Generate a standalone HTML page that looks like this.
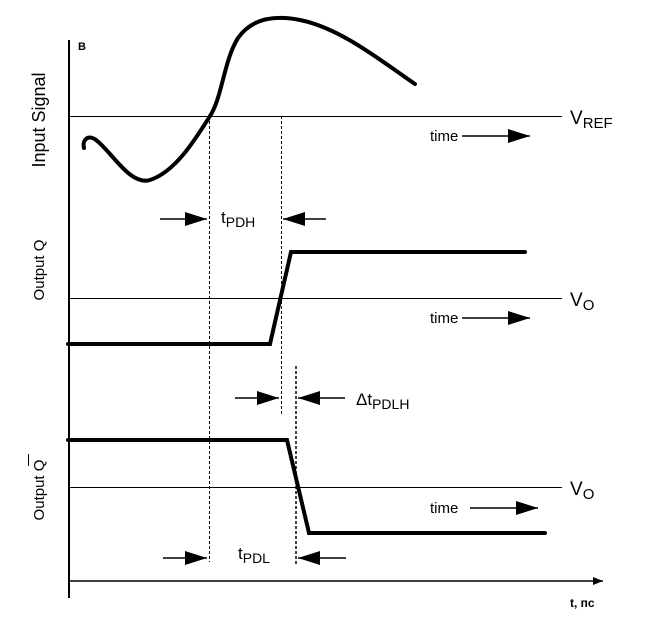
<!DOCTYPE html>
<html><head><meta charset="utf-8"><style>
body{margin:0;background:#fff}
svg text{font-family:"Liberation Sans","DejaVu Sans",sans-serif;fill:#000}
</style></head><body>
<svg width="648" height="625" viewBox="0 0 648 625">
<defs>
<marker id="ah" markerWidth="10" markerHeight="8" refX="10" refY="4" orient="auto" markerUnits="userSpaceOnUse"><path d="M0,0 L10,4 L0,8Z" fill="#000"/></marker>
<marker id="big" markerWidth="22" markerHeight="14" refX="22" refY="7" orient="auto" markerUnits="userSpaceOnUse"><path d="M0,0 L22,7 L0,14Z" fill="#000"/></marker>
</defs>
<line x1="69" y1="40" x2="69" y2="598" stroke="#000" stroke-width="2"/>
<line x1="69" y1="581" x2="603" y2="581" stroke="#000" stroke-width="1.5" marker-end="url(#ah)"/>
<text x="78" y="50" font-size="11" font-weight="bold">B</text>
<text x="570" y="607" font-size="12" font-weight="bold">t, пс</text>

<text transform="translate(45,120) rotate(-90)" text-anchor="middle" font-size="18">Input Signal</text>
<text transform="translate(44,270) rotate(-90)" text-anchor="middle" font-size="15">Output Q</text>
<text transform="translate(44,490) rotate(-90)" text-anchor="middle" font-size="15">Output Q</text>
<line x1="28.5" y1="454" x2="28.5" y2="466" stroke="#000" stroke-width="1"/>

<line x1="70" y1="116.5" x2="562" y2="116.5" stroke="#000" stroke-width="1"/>
<text x="570" y="124" font-size="19">V<tspan font-size="15" dy="4">REF</tspan></text>
<path d="M84,148 C82,140 88,134 96,140 C112,152 130,186 150,180 C175,172 195,140 210,116 C222,98 224,60 238,38 C252,18 275,15 300,20 C340,28 380,60 415,84" fill="none" stroke="#000" stroke-width="4" stroke-linecap="round"/>
<text x="430" y="141" font-size="15">time</text>
<line x1="462" y1="136" x2="530" y2="136" stroke="#000" stroke-width="1.5" marker-end="url(#big)"/>

<g stroke="#000" stroke-width="1" stroke-dasharray="3,2">
<line x1="209.5" y1="116" x2="209.5" y2="562"/>
<line x1="281.5" y1="116" x2="281.5" y2="416"/>
<line x1="296" y1="366" x2="296" y2="566" stroke-width="1.5"/>
</g>

<line x1="160" y1="219" x2="207" y2="219" stroke="#000" stroke-width="1.5" marker-end="url(#big)"/>
<line x1="326" y1="219" x2="283" y2="219" stroke="#000" stroke-width="1.5" marker-end="url(#big)"/>
<text x="221" y="223" font-size="17">t<tspan font-size="14" dy="4">PDH</tspan></text>

<line x1="70" y1="298.5" x2="562" y2="298.5" stroke="#000" stroke-width="1"/>
<text x="570" y="306" font-size="19">V<tspan font-size="15" dy="4">O</tspan></text>
<polyline points="68,344 270,344 291,252 525,252" fill="none" stroke="#000" stroke-width="4" stroke-linecap="round"/>
<text x="430" y="323" font-size="15">time</text>
<line x1="462" y1="318" x2="530" y2="318" stroke="#000" stroke-width="1.5" marker-end="url(#big)"/>

<line x1="235" y1="398" x2="279" y2="398" stroke="#000" stroke-width="1.5" marker-end="url(#big)"/>
<line x1="345" y1="398" x2="298" y2="398" stroke="#000" stroke-width="1.5" marker-end="url(#big)"/>
<text x="356" y="405" font-size="17">Δt<tspan font-size="14" dy="4">PDLH</tspan></text>

<line x1="70" y1="487.5" x2="562" y2="487.5" stroke="#000" stroke-width="1"/>
<text x="570" y="495" font-size="19">V<tspan font-size="15" dy="4">O</tspan></text>
<polyline points="68,440 287,440 309,533 545,533" fill="none" stroke="#000" stroke-width="4" stroke-linecap="round"/>
<text x="430" y="513" font-size="15">time</text>
<line x1="470" y1="508" x2="538" y2="508" stroke="#000" stroke-width="1.5" marker-end="url(#big)"/>

<line x1="163" y1="558" x2="207" y2="558" stroke="#000" stroke-width="1.5" marker-end="url(#big)"/>
<line x1="346" y1="558" x2="298" y2="558" stroke="#000" stroke-width="1.5" marker-end="url(#big)"/>
<text x="238" y="559" font-size="17">t<tspan font-size="14" dy="4">PDL</tspan></text>
</svg>
</body></html>
